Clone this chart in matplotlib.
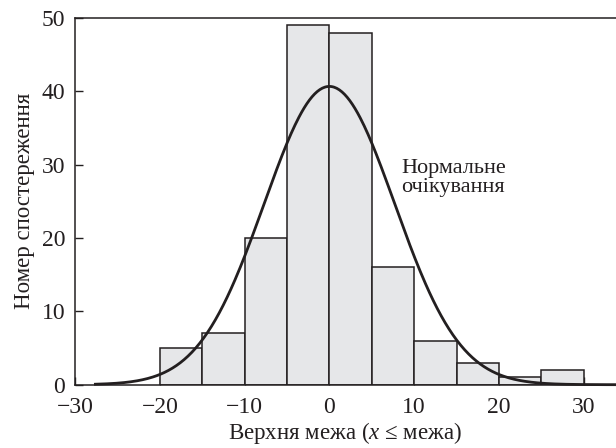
import numpy as np
import matplotlib
matplotlib.use("Agg")
from matplotlib import pyplot as plt

# histogram data
bin_edges = [-20, -15, -10, -5, 0, 5, 10, 15, 20, 25, 30]
counts = [5, 7, 20, 49, 48, 16, 6, 3, 1, 2]

# normal expectation curve parameters
curve_mean = 0.0
curve_sigma = 7.7
curve_start, curve_end = -27.6, 33.8

x_ticks = [-30, -20, -10, 0, 10, 20, 30]
y_ticks = [0, 10, 20, 30, 40, 50]

plt.rcParams['font.family'] = ['Liberation Serif', 'DejaVu Serif']
plt.rcParams['mathtext.fontset'] = 'custom'
plt.rcParams['mathtext.rm'] = 'Liberation Serif'
plt.rcParams['mathtext.it'] = 'Liberation Serif:italic'

ink = '#231f20'

fig = plt.figure(figsize=(6.16, 4.48), dpi=100)
ax = fig.add_axes([0.1218, 0.1413, 0.8782, 0.8185])

# bars
widths = np.diff(bin_edges)
ax.bar(bin_edges[:-1], counts, width=widths, align='edge',
       color='#e6e7e9', edgecolor=ink, linewidth=1.1, zorder=2)

# normal curve scaled to the histogram
n_total = sum(counts)
bw = widths[0]
xs = np.linspace(curve_start, curve_end, 400)
ys = n_total * bw / (curve_sigma * np.sqrt(2 * np.pi)) * np.exp(-(xs - curve_mean) ** 2 / (2 * curve_sigma ** 2))
ax.plot(xs, ys, color=ink, linewidth=2.0, zorder=3, clip_on=False)

ax.text(8.5, 28.2, 'Нормальне\nочікування', fontsize=16, color=ink,
        ha='left', va='center', linespacing=1.0)

ax.set_xlim(-30, 33.8)
ax.set_ylim(0, 50)
ax.set_xticks(x_ticks)
ax.set_yticks(y_ticks)
ax.tick_params(direction='in', length=6, width=1, colors=ink, labelsize=17)
ax.tick_params(axis='x', pad=9)
ax.tick_params(axis='y', pad=7)
ax.spines['right'].set_visible(False)
for s in ['left', 'top', 'bottom']:
    ax.spines[s].set_linewidth(1.1)
    ax.spines[s].set_color(ink)

ax.set_xlabel('Верхня межа ($x$ ≤ межа)', fontsize=16.5, color=ink, labelpad=1)
ax.set_ylabel('Номер спостереження', fontsize=16.5, color=ink, labelpad=5)

fig.savefig('out.png', dpi=100)
